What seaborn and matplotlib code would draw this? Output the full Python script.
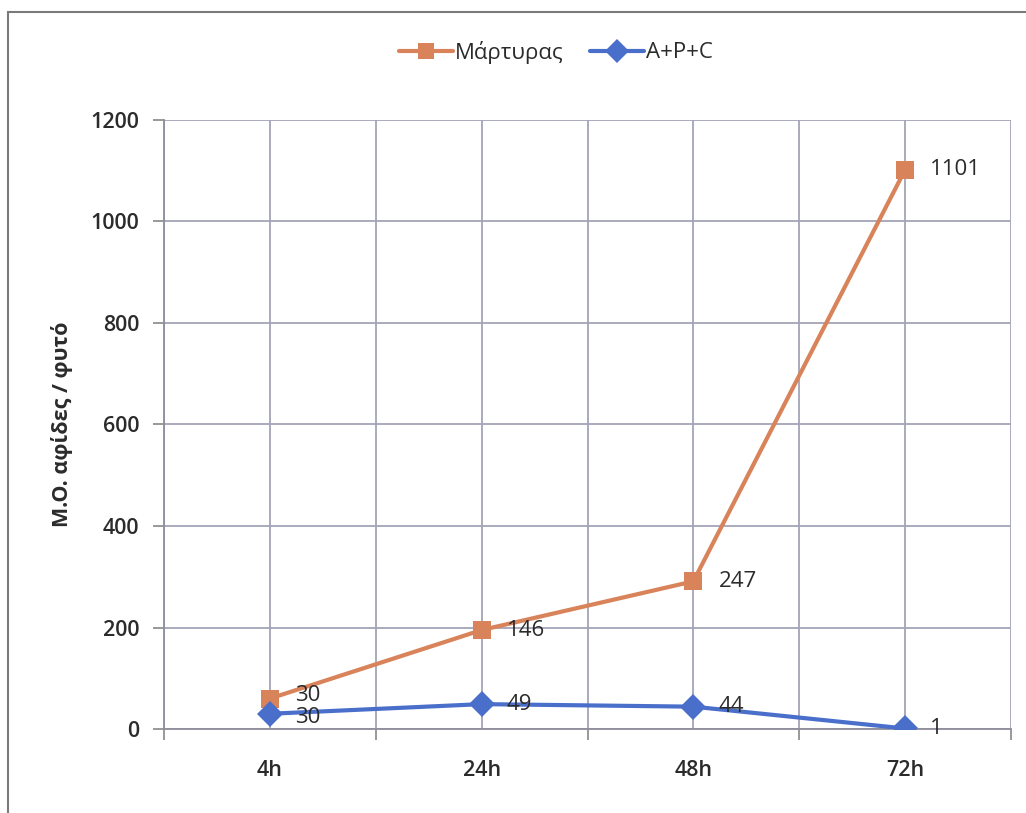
import matplotlib
matplotlib.use("Agg")
import matplotlib.pyplot as plt
from matplotlib.patches import Rectangle
from matplotlib.ticker import FixedLocator, MultipleLocator
import numpy as np
import pandas as pd
import seaborn as sns

# Data
times = ["4h", "24h", "48h", "72h"]
control = [30, 146, 247, 1101]      # Μάρτυρας
treatment = [30, 49, 44, 1]         # A+P+C
series_names = ["Μάρτυρας", "A+P+C"]

# Stacked line chart: the control series sits on top of the treatment series
pos = np.arange(len(times))
stack_top = np.array(control) + np.array(treatment)

df = pd.DataFrame({
    "pos": np.concatenate([pos, pos]),
    "value": np.concatenate([stack_top, treatment]),
    "label": np.concatenate([control, treatment]),
    "series": [series_names[0]] * len(times) + [series_names[1]] * len(times),
})

sns.set_theme(style="white")
plt.rcParams["font.family"] = ["Open Sans", "DejaVu Sans"]

orange = "#D9835A"
blue = "#4A6FCB"
grid_c = "#A2A4B8"
text_c = "#2B2B2B"

fig = plt.figure(figsize=(10.26, 8.13), dpi=100)
ax = fig.add_axes([164 / 1026, 1 - 729 / 813, (1011 - 164) / 1026, (729 - 120) / 813])

sns.lineplot(
    data=df, x="pos", y="value", hue="series", style="series",
    hue_order=series_names, style_order=series_names,
    palette={series_names[0]: orange, series_names[1]: blue},
    markers={series_names[0]: "s", series_names[1]: "D"},
    dashes=False, linewidth=3.0, markersize=13, markeredgewidth=0,
    ax=ax, legend=True, zorder=3,
)

# Data labels to the right of each point; the two labels at the first
# time point sit close together, so nudge them apart slightly
for i, r in df.iterrows():
    dy = 0
    if r["pos"] == 0:
        dy = 2 if r["series"] == series_names[0] else -3
    ax.annotate(str(int(r["label"])), (r["pos"], r["value"]),
                xytext=(18, dy), textcoords="offset points",
                ha="left", va="center", fontsize=16, color=text_c, zorder=4)

ax.set_xlim(-0.5, len(times) - 0.5)
ax.set_ylim(0, 1200)
ax.yaxis.set_major_locator(MultipleLocator(200))

# Category labels at centres, ticks at the bin boundaries
ax.set_xticks(pos)
ax.set_xticklabels(times)
ax.xaxis.set_minor_locator(FixedLocator(np.arange(-0.5, len(times), 1.0)))
ax.tick_params(axis="x", which="major", length=0, pad=22, labelsize=15.5,
               labelcolor=text_c)
ax.tick_params(axis="x", which="minor", length=8, width=1.2, color="#888888",
               direction="out", bottom=True)
ax.tick_params(axis="y", which="major", length=8, width=1.2, color="#888888",
               direction="out", left=True, pad=10, labelsize=15.5,
               labelcolor=text_c)
for lab in ax.get_xticklabels() + ax.get_yticklabels():
    lab.set_fontweight("semibold")

# Gridlines at categories, boundaries and every 200 units
ax.grid(True, axis="y", which="major", color=grid_c, linewidth=1.3)
ax.grid(True, axis="x", which="both", color=grid_c, linewidth=1.3)
ax.set_axisbelow(True)
for side in ["top", "right"]:
    ax.spines[side].set_visible(False)
ax.spines["left"].set_color("#8E8E9C")
ax.spines["bottom"].set_color("#8E8E9C")
ax.spines["left"].set_linewidth(1.3)
ax.spines["bottom"].set_linewidth(1.3)

ax.set_xlabel("")
ax.set_ylabel("Μ.Ο. αφίδες / φυτό", fontsize=15.5, fontweight="bold",
              color=text_c, labelpad=12)

handles, labels = ax.get_legend_handles_labels()
ax.get_legend().remove()
for h in handles:
    h.set_markersize(12)
fig.legend(handles, labels, loc="center", bbox_to_anchor=(556 / 1026, 1 - 52 / 813),
           ncol=2, frameon=False, fontsize=16, handlelength=2.4,
           columnspacing=1.2, handletextpad=0.1, labelcolor=text_c)

# Outer chart frame
fig.patches.append(Rectangle((8 / 1026, -0.05), 1.2, 1 - 12 / 813 + 0.05,
                             transform=fig.transFigure, fill=False,
                             edgecolor="#7A7A7A", linewidth=1.5))

fig.savefig("out.png", dpi=100)
